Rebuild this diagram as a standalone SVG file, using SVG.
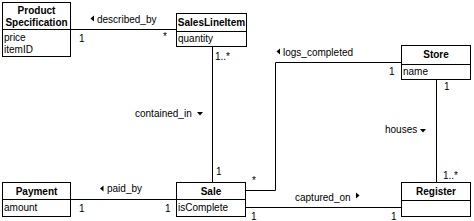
<svg xmlns="http://www.w3.org/2000/svg" width="474" height="221" viewBox="0 0 474 221">
<style>
.box{fill:#fff;stroke:#000;stroke-width:1}
.ln{fill:none;stroke:#000;stroke-width:1}
.t{font-family:"Liberation Sans",Arial,sans-serif;font-size:10px;fill:#000}
.b{font-family:"Liberation Sans",Arial,sans-serif;font-size:10px;font-weight:bold;fill:#000}
.tri{fill:#000}
</style>
<rect width="474" height="221" fill="#fff"/>
<g id="connectors">
<line class="ln" x1="71" y1="29.5" x2="176" y2="29.5"/>
<line class="ln" x1="212.5" y1="47" x2="212.5" y2="182"/>
<polyline class="ln" points="246,190.5 275.5,190.5 275.5,62.5 402,62.5"/>
<line class="ln" x1="436.5" y1="79" x2="436.5" y2="182"/>
<line class="ln" x1="71" y1="199.5" x2="176" y2="199.5"/>
<line class="ln" x1="246" y1="207.5" x2="401" y2="207.5"/>
<polygon class="tri" points="90.5,18.5 94,15.5 94,21.5"/>
<text class="t" x="97" y="23">described_by</text>
<text class="t" x="79" y="42">1</text>
<text class="t" x="163" y="40">*</text>
<text class="t" x="135" y="117">contained_in</text>
<polygon class="tri" points="197,112 203,112 200,115.5"/>
<text class="t" x="215" y="60">1..*</text>
<text class="t" x="216" y="175">1</text>
<polygon class="tri" points="276.5,51.5 280,48.5 280,54.5"/>
<text class="t" x="283" y="56">logs_completed</text>
<text class="t" x="389" y="75">1</text>
<text class="t" x="252" y="184">*</text>
<text class="t" x="385" y="133">houses</text>
<polygon class="tri" points="420,129 426,129 423,132.5"/>
<text class="t" x="444" y="90">1</text>
<text class="t" x="443" y="179">1..*</text>
<polygon class="tri" points="100,188.5 103.5,185.5 103.5,191.5"/>
<text class="t" x="107" y="192">paid_by</text>
<text class="t" x="79" y="212">1</text>
<text class="t" x="165" y="212">1</text>
<text class="t" x="295" y="201">captured_on</text>
<polygon class="tri" points="359.5,195.5 356,192.5 356,198.5"/>
<text class="t" x="251" y="220">1</text>
<text class="t" x="391" y="220">1</text>
</g>
<g id="ProductSpecification">
<rect class="box" x="2.5" y="2.5" width="68" height="54"/>
<line class="ln" x1="2.5" y1="29.5" x2="70.5" y2="29.5"/>
<text class="b" x="36.5" y="13.5" text-anchor="middle">Product</text>
<text class="b" x="36.5" y="26" text-anchor="middle">Specification</text>
<text class="t" x="4" y="41">price</text>
<text class="t" x="4" y="53">itemID</text>
</g>
<g id="SalesLineItem">
<rect class="box" x="176.5" y="13.5" width="70" height="33"/>
<line class="ln" x1="176.5" y1="31.5" x2="246.5" y2="31.5"/>
<text class="b" x="211.5" y="26" text-anchor="middle">SalesLineItem</text>
<text class="t" x="178" y="42">quantity</text>
</g>
<g id="Store">
<rect class="box" x="401.5" y="45.5" width="69" height="34"/>
<line class="ln" x1="401.5" y1="64.5" x2="470.5" y2="64.5"/>
<text class="b" x="436" y="58" text-anchor="middle">Store</text>
<text class="t" x="403" y="75">name</text>
</g>
<g id="Payment">
<rect class="box" x="2.5" y="182.5" width="68" height="34"/>
<line class="ln" x1="2.5" y1="199.5" x2="70.5" y2="199.5"/>
<text class="b" x="36.5" y="194.5" text-anchor="middle">Payment</text>
<text class="t" x="4" y="211">amount</text>
</g>
<g id="Sale">
<rect class="box" x="176.5" y="182.5" width="69" height="34"/>
<line class="ln" x1="176.5" y1="199.5" x2="245.5" y2="199.5"/>
<text class="b" x="211" y="194.5" text-anchor="middle">Sale</text>
<text class="t" x="178" y="211">isComplete</text>
</g>
<g id="Register">
<rect class="box" x="401.5" y="182.5" width="69" height="34"/>
<line class="ln" x1="401.5" y1="200.5" x2="470.5" y2="200.5"/>
<text class="b" x="436" y="194.5" text-anchor="middle">Register</text>
</g>
</svg>
